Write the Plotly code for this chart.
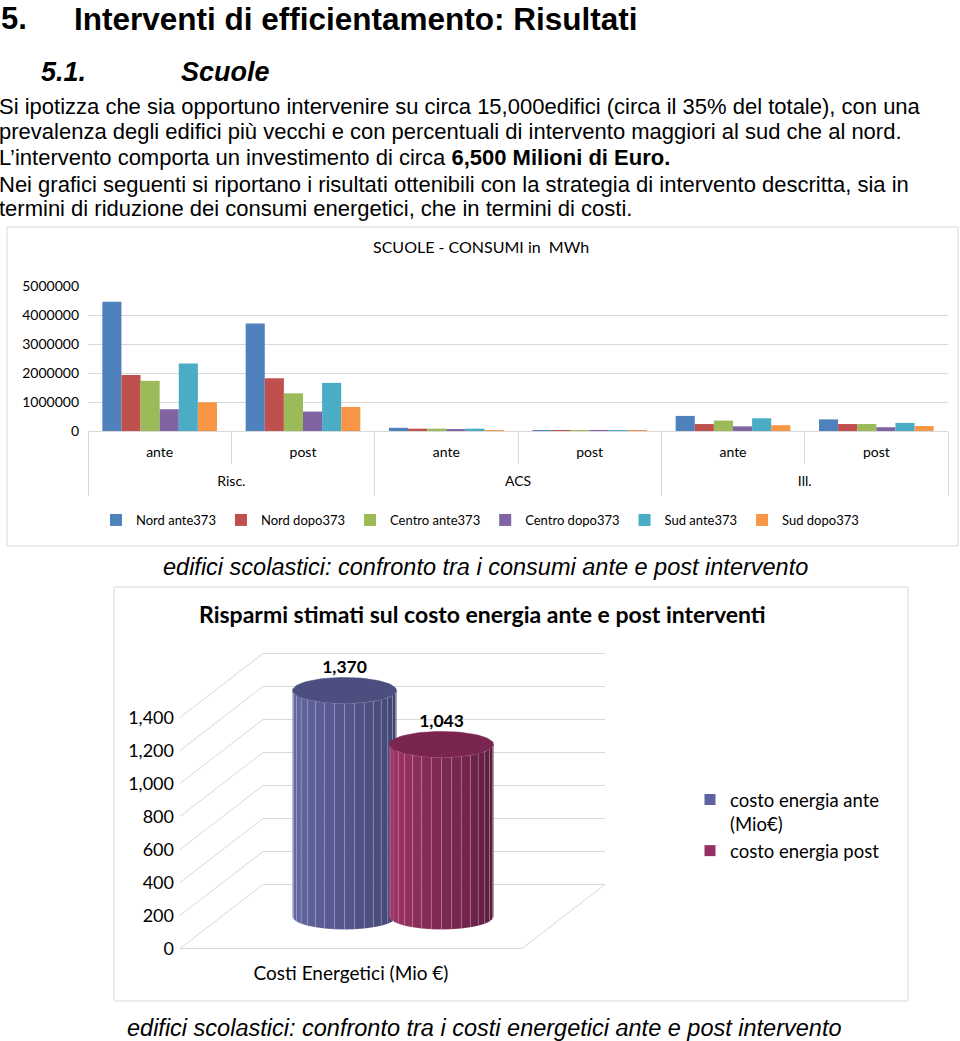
import numpy as np
import plotly.graph_objects as go

W, H = 960, 1041

# ---------------------------------------------------------------------
# Data - chart 1: SCUOLE - CONSUMI in MWh
# ---------------------------------------------------------------------
usage_groups = ["Risc.", "Risc.", "ACS", "ACS", "Ill.", "Ill."]
usage_phases = ["ante", "post", "ante", "post", "ante", "post"]
series_names = ["Nord ante373", "Nord dopo373", "Centro ante373",
                "Centro dopo373", "Sud ante373", "Sud dopo373"]
nord_ante = [4460000, 3710000, 110000, 20000, 520000, 400000]
nord_dopo = [1930000, 1820000, 80000, 10000, 240000, 240000]
centro_ante = [1730000, 1300000, 80000, 25000, 360000, 240000]
centro_dopo = [750000, 670000, 45000, 5000, 160000, 130000]
sud_ante = [2330000, 1660000, 80000, 25000, 440000, 280000]
sud_dopo = [990000, 830000, 30000, 5000, 200000, 170000]
consumi_ticks = [0, 1000000, 2000000, 3000000, 4000000, 5000000]

# ---------------------------------------------------------------------
# Data - chart 2: costi energetici
# ---------------------------------------------------------------------
costi_category = "Costi Energetici (Mio €)"
costi_names = ["costo energia ante<br>(Mio€)", "costo energia post"]
costi_values = [1370, 1043]
costi_ticks = [0, 200, 400, 600, 800, 1000, 1200, 1400]

# ---------------------------------------------------------------------
# Styling
# ---------------------------------------------------------------------
ARIAL = "Liberation Sans, Arial, sans-serif"
CALIBRI = "Lato, Open Sans, sans-serif"
GRID = "#D9D9D9"
EXCEL_COLORS = ["#4F81BD", "#C0504D", "#9BBB59", "#8064A2", "#4BACC6", "#F79646"]

# cylinder colours: (left face, right face, top, legend)
CYL_STYLE = [
    ((104, 106, 168), (64, 66, 110), "#4B4E7E", "#5F62A0"),
    ((168, 54, 108), (88, 27, 60), "#7A2450", "#943062"),
]


def px_x(x):
    return x / W


def px_y(y):
    return 1 - y / H


fig = go.Figure()

# ---------------------------------------------------------------------
# Chart 1 - grouped bars
# ---------------------------------------------------------------------
usage_keys = [f"{g} {p}" for g, p in zip(usage_groups, usage_phases)]
series_values = [nord_ante, nord_dopo, centro_ante, centro_dopo, sud_ante, sud_dopo]
for name, vals, color in zip(series_names, series_values, EXCEL_COLORS):
    fig.add_trace(go.Bar(
        x=usage_keys, y=vals, name=name,
        marker=dict(color=color, line=dict(width=0)),
        xaxis="x", yaxis="y", legend="legend",
    ))

# helper axes for the two label rows (phase / group)
n_cat = len(usage_keys)
group_labels = list(dict.fromkeys(usage_groups))
group_bounds = [0] + [i for i in range(1, n_cat) if usage_groups[i] != usage_groups[i - 1]] + [n_cat]
group_centres = [(a + b) / 2 for a, b in zip(group_bounds[:-1], group_bounds[1:])]
phase_bounds = [i for i in range(1, n_cat) if i not in group_bounds]
for ax in ("x3", "x4"):
    fig.add_trace(go.Scatter(x=[None], y=[None], xaxis=ax, yaxis="y",
                             showlegend=False, hoverinfo="skip"))

# ---------------------------------------------------------------------
# Chart 2 - pseudo 3D cylinders
# ---------------------------------------------------------------------
PX_PER_VAL = 0.165          # vertical pixels per Mio €
FRONT_LEFT, FRONT_RIGHT = 180, 522
DEPTH_DX = 83               # horizontal shift of the back wall (px)
DEPTH_V = 64 / PX_PER_VAL   # vertical shift of the back wall (value units)
MID_V = DEPTH_V / 2
CYL_X0, CYL_STEP, CYL_R = 344.5, 97, 52
ELL_V = 13 / PX_PER_VAL
N_FACETS = 16

# walls and floor, derived from the tick values
gx, gy = [], []
for t in costi_ticks:
    gx += [FRONT_LEFT, FRONT_LEFT + DEPTH_DX, FRONT_RIGHT + DEPTH_DX, None]
    gy += [t, t + DEPTH_V, t + DEPTH_V, None]
gx += [FRONT_LEFT, FRONT_RIGHT, FRONT_RIGHT + DEPTH_DX, None]
gy += [0, 0, DEPTH_V, None]
fig.add_trace(go.Scatter(
    x=gx, y=gy, mode="lines", line=dict(color=GRID, width=1),
    hoverinfo="skip", showlegend=False, xaxis="x2", yaxis="y2",
))


def mix(c1, c2, t):
    return "rgb({},{},{})".format(*[int(round(a + (b - a) * t)) for a, b in zip(c1, c2)])


for i, (name, val) in enumerate(zip(costi_names, costi_values)):
    left_c, right_c, top_c, legend_c = CYL_STYLE[i]
    cx = CYL_X0 + i * CYL_STEP
    base, top = MID_V, val + MID_V

    # legend swatch
    fig.add_trace(go.Scatter(
        x=[None], y=[None], mode="markers", name=name,
        marker=dict(symbol="square", size=11, color=legend_c),
        xaxis="x2", yaxis="y2", legend="legend2",
    ))

    # vertical facets
    edges = np.linspace(np.pi, 2 * np.pi, N_FACETS + 1)
    for k in range(N_FACETS):
        a, b = edges[k], edges[k + 1]
        xa, xb = cx + CYL_R * np.cos(a), cx + CYL_R * np.cos(b)
        fig.add_trace(go.Scatter(
            x=[xa, xb, xb, xa, xa],
            y=[base + ELL_V * np.sin(a), base + ELL_V * np.sin(b),
               top + ELL_V * np.sin(b), top + ELL_V * np.sin(a), base + ELL_V * np.sin(a)],
            fill="toself", mode="lines",
            fillcolor=mix(left_c, right_c, k / (N_FACETS - 1)),
            line=dict(color="rgba(255,255,255,0.18)", width=0.6),
            hoverinfo="skip", showlegend=False, xaxis="x2", yaxis="y2",
        ))

    # top cap
    tt = np.linspace(0, 2 * np.pi, 80)
    fig.add_trace(go.Scatter(
        x=cx + CYL_R * np.cos(tt), y=top + ELL_V * np.sin(tt),
        fill="toself", mode="lines", fillcolor=top_c,
        line=dict(color=top_c, width=0.5),
        hoverinfo="skip", showlegend=False, xaxis="x2", yaxis="y2",
    ))

# value labels
fig.add_trace(go.Scatter(
    x=[CYL_X0 + i * CYL_STEP for i in range(len(costi_values))],
    y=[v + MID_V + ELL_V for v in costi_values],
    mode="text", text=[f"{v:,}" for v in costi_values],
    texttemplate="<b>%{text}</b>", textposition="top center",
    textfont=dict(family=CALIBRI, size=17.5, color="#000000"),
    hoverinfo="skip", showlegend=False, xaxis="x2", yaxis="y2",
))

# ---------------------------------------------------------------------
# Layout
# ---------------------------------------------------------------------
X1_DOM = (88, 948)
X2_DOM = (175, 700)
Y2_DOM = (640, 960)   # pixel rows (top, bottom)
ZERO_PX = 948.5

helper_axis = dict(
    domain=[px_x(X1_DOM[0]), px_x(X1_DOM[1])], anchor="y", overlaying="x",
    range=[0, n_cat], showgrid=False, zeroline=False, showline=False,
    ticks="", automargin=False,
    tickfont=dict(family=CALIBRI, size=14, color="#000000"),
)

fig.update_layout(
    width=W, height=H, autosize=False,
    margin=dict(l=0, r=0, t=0, b=0, autoexpand=False),
    paper_bgcolor="white", plot_bgcolor="white",
    barmode="group", bargap=0.2, bargroupgap=0,
    showlegend=True,
    font=dict(family=CALIBRI, color="#000000"),
    xaxis=dict(
        domain=[px_x(X1_DOM[0]), px_x(X1_DOM[1])], anchor="y", automargin=False,
        type="category", showgrid=False, showticklabels=False, ticks="",
        showline=True, linecolor=GRID, linewidth=1,
    ),
    xaxis3=dict(
        helper_axis,
        tickvals=[i + 0.5 for i in range(n_cat)], ticktext=usage_phases,
        ticklabelstandoff=11,
        minor=dict(tickvals=phase_bounds, ticks="outside", ticklen=32,
                   tickcolor=GRID, tickwidth=1, showgrid=False),
    ),
    xaxis4=dict(
        helper_axis,
        tickvals=group_centres, ticktext=group_labels,
        ticklabelstandoff=40,
        minor=dict(tickvals=group_bounds, ticks="outside", ticklen=64,
                   tickcolor=GRID, tickwidth=1, showgrid=False),
    ),
    yaxis=dict(
        domain=[px_y(431), px_y(286)], anchor="x", automargin=False,
        range=[0, 5000000], tickvals=consumi_ticks, tickformat="d",
        showgrid=True, gridcolor=GRID, gridwidth=1, zeroline=False,
        tickfont=dict(family=CALIBRI, size=14, color="#000000"),
        ticklabelstandoff=8,
    ),
    xaxis2=dict(
        domain=[px_x(X2_DOM[0]), px_x(X2_DOM[1])], anchor="y2", automargin=False,
        range=list(X2_DOM), showgrid=False, zeroline=False, showline=False,
        tickvals=[(FRONT_LEFT + FRONT_RIGHT) / 2], ticktext=[costi_category],
        tickfont=dict(family=CALIBRI, size=19, color="#000000"),
    ),
    yaxis2=dict(
        domain=[px_y(Y2_DOM[1]), px_y(Y2_DOM[0])], anchor="x2", automargin=False,
        range=[(ZERO_PX - Y2_DOM[1]) / PX_PER_VAL, (ZERO_PX - Y2_DOM[0]) / PX_PER_VAL],
        tickvals=costi_ticks, tickformat=",",
        showgrid=False, zeroline=False, showline=False,
        tickfont=dict(family=CALIBRI, size=18, color="#000000"),
    ),
    legend=dict(
        orientation="h", x=0.5, xanchor="center", y=px_y(520), yanchor="middle",
        font=dict(family=CALIBRI, size=13, color="#000000"),
        bgcolor="rgba(0,0,0,0)", itemwidth=30,
    ),
    legend2=dict(
        x=px_x(690), xanchor="left", y=px_y(781), yanchor="top",
        font=dict(family=CALIBRI, size=18.5, color="#000000"),
        bgcolor="rgba(0,0,0,0)", itemwidth=30, valign="top",
    ),
)

# chart frames
for x0, y0, x1, y1 in [(7, 227, 958, 546), (114, 587, 908, 1001)]:
    fig.add_shape(type="rect", xref="paper", yref="paper",
                  x0=px_x(x0), y0=px_y(y0), x1=px_x(x1), y1=px_y(y1),
                  line=dict(color=GRID, width=1), layer="below")


# ---------------------------------------------------------------------
# Document text
# ---------------------------------------------------------------------
def note(text, x, y, size, family=ARIAL, anchor="left", yanchor="middle"):
    fig.add_annotation(text=text, x=px_x(x), y=px_y(y), xref="paper", yref="paper",
                       xanchor=anchor, yanchor=yanchor, showarrow=False, borderpad=0,
                       font=dict(family=family, size=size, color="#000000"))


note("<b>5.</b>", 0, 0, 31, yanchor="top")
note("<b>Interventi di efficientamento: Risultati</b>", 73, 0, 31.5, yanchor="top")
note("<b><i>5.1.</i></b>", 40, 72, 27)
note("<b><i>Scuole</i></b>", 180, 72, 27)

body_lines = [
    ("Si ipotizza che sia opportuno intervenire su circa 15,000edifici (circa il 35% del totale), con una", 107),
    ("prevalenza degli edifici più vecchi e con percentuali di intervento maggiori al sud che al nord.", 131),
    ("L’intervento comporta un investimento di circa <b>6,500 Milioni di Euro.</b>", 157),
    ("Nei grafici seguenti si riportano i risultati ottenibili con la strategia di intervento descritta, sia in", 184),
    ("termini di riduzione dei consumi energetici, che in termini di costi.", 208),
]
for line, y in body_lines:
    note(line, -2, y, 22)

note("SCUOLE - CONSUMI in  MWh", 481, 247, 16, CALIBRI, "center")
note("<i>edifici scolastici: confronto tra i consumi ante e post intervento</i>", 485, 567, 23.5, ARIAL, "center")
note("<b>Risparmi stimati sul costo energia ante e post interventi</b>", 482, 614, 23, CALIBRI, "center")
note("<i>edifici scolastici: confronto tra i costi energetici ante e post intervento</i>", 484, 1028, 23.5, ARIAL, "center")

fig.write_html("out.html", config={"displayModeBar": False},
               post_script="document.body.style.margin='0';")
